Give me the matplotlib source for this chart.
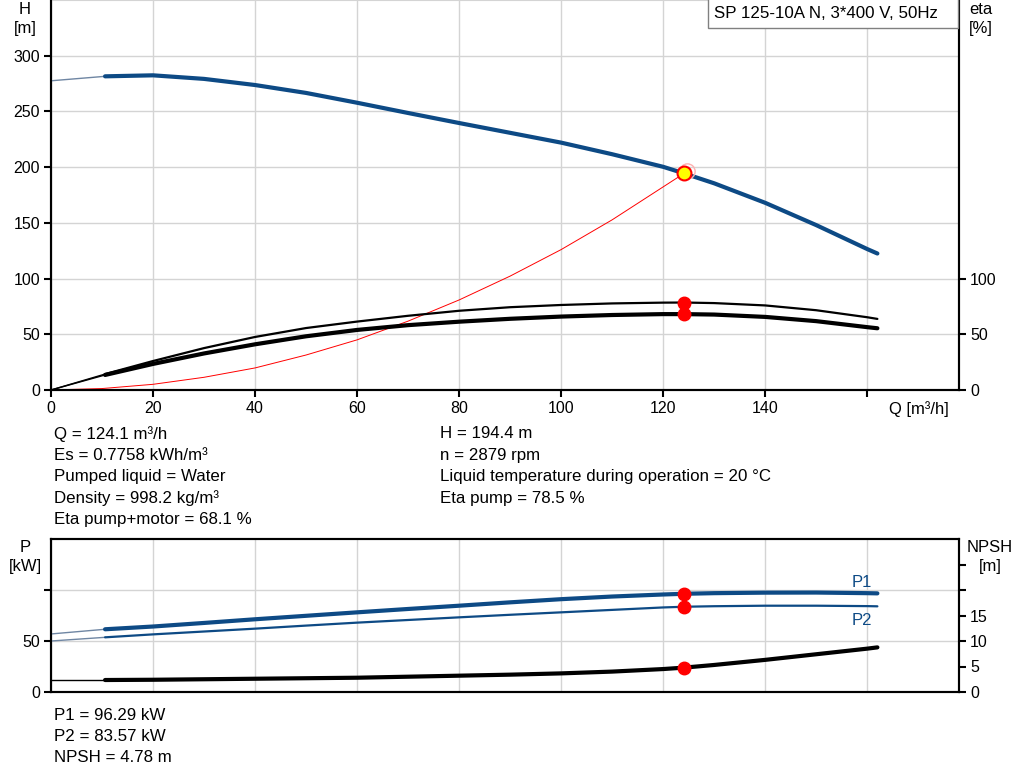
import matplotlib.pyplot as plt
from matplotlib.patches import Rectangle

plt.rcParams['font.family'] = ['Liberation Sans', 'DejaVu Sans']

# -----------------------------
# Data
# -----------------------------
q = [0, 10.6, 20, 30, 40, 50, 60, 70, 80, 90, 100, 110, 120, 124.1, 130, 140, 150, 160, 162]
head = [277.5, 281.5, 282.4, 279.2, 273.7, 266.6, 257.8, 248.6, 239.6, 230.8, 222,
        211.6, 200.3, 194.4, 185.5, 168, 148, 126.5, 122.5]
eta_pump = [0, 14.3, 26, 37.6, 47.6, 55.6, 61.4, 66.6, 71.1, 74.3, 76.3,
            77.7, 78.4, 78.5, 78.0, 75.9, 71.6, 65.3, 63.8]
eta_total = [0, 13.5, 23.4, 32.8, 41, 48.2, 53.9, 58.2, 61.3, 63.9, 65.9,
             67.3, 68.1, 68.1, 67.7, 65.6, 61.8, 56.4, 55.4]
p1 = [56.9, 61.5, 64.2, 67.7, 71.3, 74.7, 78.1, 81.4, 84.6, 87.9, 91.0,
      93.6, 95.6, 96.29, 96.9, 97.4, 97.5, 96.9, 96.7]
p2 = [50, 53.6, 56.5, 59.3, 62.1, 65.1, 68, 70.6, 73.2, 75.7, 78.1,
      80.5, 82.9, 83.57, 84.1, 84.6, 84.6, 84.2, 84.0]
npsh = [2.35, 2.35, 2.4, 2.5, 2.6, 2.7, 2.8, 3.0, 3.2, 3.4, 3.65,
        4.0, 4.5, 4.78, 5.3, 6.3, 7.4, 8.5, 8.75]

q_sys = [0, 10, 20, 30, 40, 50, 60, 70, 80, 90, 100, 110, 124.1]
h_sys = [0, 1.3, 5.1, 11.4, 19.8, 31.4, 45, 61.8, 80.8, 102.2, 126, 152.7, 194.4]

duty_q = 124.1
duty_h = 194.4
duty_eta = [78.5, 68.1]
duty_p = [96.29, 83.57]
duty_npsh = 4.78

info_left = ["Q = 124.1 m³/h", "Es = 0.7758 kWh/m³", "Pumped liquid = Water",
             "Density = 998.2 kg/m³", "Eta pump+motor = 68.1 %"]
info_right = ["H = 194.4 m", "n = 2879 rpm",
              "Liquid temperature during operation = 20 °C", "Eta pump = 78.5 %"]
info_bottom = ["P1 = 96.29 kW", "P2 = 83.57 kW", "NPSH = 4.78 m"]

BLUE = '#0d4a85'
THIN = '#6f86a3'
GRID = '#d4d4d4'
W, H = 1024, 781
TXT = 12.2

fig = plt.figure(figsize=(10.24, 7.81), dpi=100)


def px(x, y):
    return x / W, 1 - y / H


def style(ax):
    ax.grid(True, color=GRID, lw=1)
    ax.set_axisbelow(True)
    ax.tick_params(direction='out', length=5, width=1.5, labelsize=11.5, pad=3)
    for s in ax.spines.values():
        s.set_linewidth(1.5)


def split_plot(ax, xs, ys, color, thin_color, lw):
    # thin extension up to first real point, thick afterwards
    ax.plot(xs[:2], ys[:2], color=thin_color, lw=1, zorder=3)
    ax.plot(xs[1:], ys[1:], color=color, lw=lw, zorder=3,
            solid_capstyle='round', solid_joinstyle='round')


# -----------------------------
# Top panel: H and eta
# -----------------------------
ax = fig.add_axes([51 / W, 1 - 390 / H, (959 - 51) / W, 390 / H])
ax.set_xlim(0, 178)
ax.set_ylim(0, 350)
ax.set_xticks(range(0, 180, 20))
ax.set_xticklabels([str(v) for v in range(0, 160, 20)] + [""])
ax.set_yticks(range(0, 350, 50))
ax.set_yticks([350], minor=True)
style(ax)
ax.grid(True, which='minor', axis='y', color=GRID)
ax.tick_params(which='minor', length=0)
ax.spines['top'].set_visible(False)

split_plot(ax, q, head, BLUE, THIN, 3)
ax.plot(q_sys, h_sys, color='red', lw=0.7, zorder=2)
ax.plot(duty_q + 0.6, duty_h + 2.5, 'o', ms=11, mfc='none', mec='#ffb0b0', mew=1, zorder=4)
ax.plot(duty_q, duty_h, 'o', ms=10, mfc='yellow', mec='red', mew=1.5, zorder=5)

ax2 = ax.twinx()
ax2.set_ylim(0, 350)
ax2.set_yticks([0, 50, 100])
ax2.tick_params(direction='out', length=5, width=1.5, labelsize=11.5, pad=3)
for s in ax2.spines.values():
    s.set_linewidth(1.5)
ax2.spines['top'].set_visible(False)
split_plot(ax2, q, eta_pump, 'black', 'black', 1.6)
split_plot(ax2, q, eta_total, 'black', 'black', 3)
ax2.plot([duty_q] * 2, duty_eta, 'o', color='red', ms=9, zorder=5)

fig.text(*px(25, 19), "H\n[m]", ha='center', va='center', fontsize=12, linespacing=1.3)
fig.text(*px(981, 19), "eta\n[%]", ha='center', va='center', fontsize=12, linespacing=1.3)
fig.text(*px(919, 409), "Q [m³/h]", ha='center', va='center', fontsize=12)

x0, y0 = px(708, 28)
fig.patches.append(Rectangle((x0, y0), 250 / W, 30 / H, transform=fig.transFigure,
                             facecolor='white', edgecolor='#808080', lw=1))
fig.text(*px(714, 14), "SP 125-10A N, 3*400 V, 50Hz", ha='left', va='center', fontsize=TXT)

for i, t in enumerate(info_left):
    fig.text(*px(54, 434 + i * 21.4), t, ha='left', va='center', fontsize=TXT)
for i, t in enumerate(info_right):
    fig.text(*px(440, 434 + i * 21.4), t, ha='left', va='center', fontsize=TXT)

# -----------------------------
# Bottom panel: P and NPSH
# -----------------------------
bx = fig.add_axes([51 / W, 1 - 692 / H, (959 - 51) / W, (692 - 539) / H])
bx.set_xlim(0, 178)
bx.set_ylim(0, 150)
bx.set_xticks(range(0, 180, 20))
bx.set_xticklabels([])
bx.set_yticks([0, 50, 100])
bx.set_yticklabels(["0", "50", ""])
style(bx)
bx.tick_params(axis='x', length=0)

split_plot(bx, q, p1, BLUE, THIN, 3)
split_plot(bx, q, p2, BLUE, THIN, 1.6)
bx.plot([duty_q] * 2, duty_p, 'o', color='red', ms=9, zorder=5)
bx.text(157, 107, "P1", color=BLUE, fontsize=12, ha='left', va='center')
bx.text(157, 70.5, "P2", color=BLUE, fontsize=12, ha='left', va='center')

bx2 = bx.twinx()
bx2.set_ylim(0, 30)
bx2.set_yticks(range(0, 30, 5))
bx2.set_yticklabels(["0", "5", "10", "15", "", ""])
bx2.tick_params(direction='out', length=5, width=1.5, labelsize=11.5, pad=3)
for s in bx2.spines.values():
    s.set_linewidth(1.5)
split_plot(bx2, q, npsh, 'black', 'black', 3)
bx2.plot(duty_q, duty_npsh, 'o', color='red', ms=9, zorder=5)

fig.text(*px(25, 557), "P\n[kW]", ha='center', va='center', fontsize=12, linespacing=1.3)
fig.text(*px(990, 557), "NPSH\n[m]", ha='center', va='center', fontsize=12, linespacing=1.3)

for i, t in enumerate(info_bottom):
    fig.text(*px(54, 715 + i * 21.4), t, ha='left', va='center', fontsize=TXT)

fig.savefig("out.png", dpi=100)
